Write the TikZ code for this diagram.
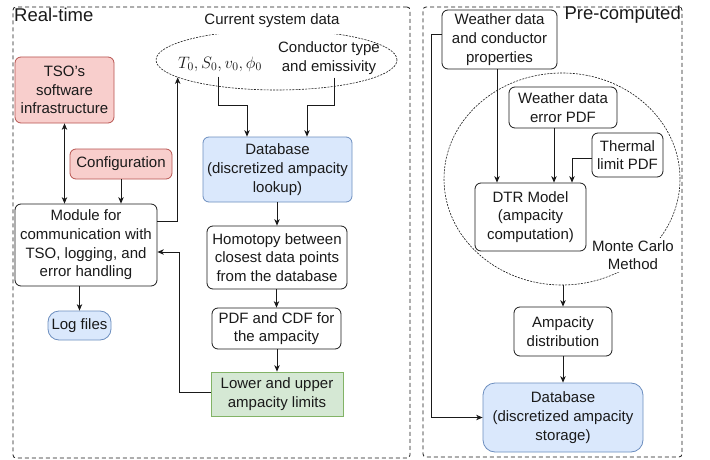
\documentclass[tikz,border=0pt]{standalone}
\usepackage{fix-cm}
\usepackage{fontspec}
\setmainfont{Liberation Sans}
\usetikzlibrary{arrows.meta,shapes.geometric,calc}
\definecolor{redfill}{HTML}{F8CECC}
\definecolor{redline}{HTML}{B85450}
\definecolor{bluefill}{HTML}{DAE8FC}
\definecolor{blueline}{HTML}{6C8EBF}
\definecolor{greenfill}{HTML}{D5E8D4}
\definecolor{greenline}{HTML}{82B366}
\definecolor{ink}{HTML}{1A1A1A}
\begin{document}
\begin{tikzpicture}[x=1pt,y=-1pt,
  txt/.style={font=\fontsize{15}{18.7}\selectfont, align=center, text=ink},
  box/.style={txt, draw=ink, line width=0.8pt, rounded corners=6pt, inner sep=0pt},
  redbox/.style={box, fill=redfill, draw=redline},
  bluebox/.style={box, fill=bluefill, draw=blueline},
  greenbox/.style={box, fill=greenfill, draw=greenline, rounded corners=0pt},
  frame/.style={draw=ink, line width=0.8pt, dash pattern=on 4pt off 3pt, rounded corners=3pt, inner sep=0pt},
  dotell/.style={ellipse, draw=ink, line width=0.6pt, dash pattern=on 2pt off 1.2pt, inner sep=0pt},
  title/.style={font=\fontsize{18.5}{22}\selectfont, text=ink, fill=white, inner xsep=0.5pt, inner ysep=0pt, text height=11pt, text depth=4pt},
  arr/.style={draw=ink, line width=0.8pt, -{Stealth[length=6.5pt,width=5.5pt,inset=2pt]}},
  arrboth/.style={draw=ink, line width=0.8pt, {Stealth[length=6.5pt,width=5.5pt,inset=2pt]}-{Stealth[length=6.5pt,width=5.5pt,inset=2pt]}}
]
\fill[white] (0,0) rectangle (710,460);
\useasboundingbox (0,0) rectangle (710,460);

% frames
\node[frame, minimum width=397pt, minimum height=451pt] (rt) at (211.5,232.5) {};
\node[frame, minimum width=259pt, minimum height=450pt] (pc) at (552.5,232) {};
\node[title, anchor=base west] (rtl) at (13.5,21.5) {Real-time};
\node[title, anchor=base east] (pcl) at (681.5,19.5) {Pre-computed};

% ellipses
\node[dotell, minimum width=241pt, minimum height=60pt] (cur) at (276.5,60) {};
\node[txt, fill=white, inner xsep=1pt, inner ysep=0pt, text height=14pt, text depth=9pt, anchor=base] (curl) at (272,25) {Current system data};
\node[txt, font=\fontsize{16.5}{20}\selectfont, inner xsep=2pt, inner ysep=5pt] (tv) at (220,64) {$T_0, S_0, v_0, \phi_0$};
\node[txt, inner xsep=2pt, inner ysep=3pt] (ct) at (329,58) {Conductor type\\and emissivity};

\node[dotell, minimum width=236pt, minimum height=212pt] (mc) at (562,179) {};
\node[txt, fill=white, inner sep=2pt] (mcl) at (633,255) {Monte Carlo\\Method};

% left nodes
\node[redbox, minimum width=99pt, minimum height=66pt] (tso) at (64.5,90) {TSO's\\software\\infrastructure};
\node[redbox, minimum width=102pt, minimum height=30pt] (cfg) at (121,164) {Configuration};
\node[box, minimum width=142pt, minimum height=82pt] (mod) at (86,245) {Module for\\communication with\\TSO, logging, and\\error handling};
\node[bluebox, rounded corners=11pt, minimum width=63pt, minimum height=29pt] (log) at (79.5,325.5) {Log files};
\node[bluebox, minimum width=149pt, minimum height=65pt] (db) at (277.5,169.5) {Database\\(discretized ampacity\\lookup)};
\node[box, minimum width=140pt, minimum height=63pt] (hom) at (277,257.5) {Homotopy between\\closest data points\\from the database};
\node[box, minimum width=129pt, minimum height=41pt] (pdf) at (276.5,328.5) {PDF and CDF for\\the ampacity};
\node[greenbox, minimum width=132pt, minimum height=44pt] (low) at (277,394) {Lower and upper\\ampacity limits};

% right nodes
\node[box, minimum width=115pt, minimum height=59pt] (wea) at (499.5,39.5) {Weather data\\and conductor\\properties};
\node[box, minimum width=108pt, minimum height=41pt] (err) at (563,107.5) {Weather data\\error PDF};
\node[box, minimum width=71pt, minimum height=44pt] (th) at (627.5,155) {Thermal\\limit PDF};
\node[box, minimum width=111pt, minimum height=68pt] (dtr) at (530.5,217) {DTR Model\\(ampacity\\computation)};
\node[box, minimum width=98pt, minimum height=49pt] (amp) at (563,331.5) {Ampacity\\distribution};
\node[bluebox, rounded corners=12pt, minimum width=160pt, minimum height=69pt] (sto) at (563,417.5) {Database\\(discretized ampacity\\storage)};

% left connectors
\draw[arrboth] (tso.south) -- (tso.south |- mod.north);
\draw[arr] (cfg.south) -- (cfg.south |- mod.north);
\draw[arr] (mod.south -| log.north) -- (log.north);
\draw[arr] ([yshift=24pt]mod.east) -| (cur.190);
\draw[arr] ([xshift=-2pt]tv.south) |- ([xshift=-30.5pt,yshift=31pt]db.north) -- ([xshift=-30.5pt]db.north);
\draw[arr] ([xshift=5pt]ct.south) |- ([xshift=29.5pt,yshift=31pt]db.north) -- ([xshift=29.5pt]db.north);
\draw[arr] (db.south -| hom.north) -- (hom.north);
\draw[arr] (hom.south -| pdf.north) -- (pdf.north);
\draw[arr] (pdf.south -| low.north) -- (low.north);
\draw[arr] ([yshift=2pt]low.west) -- ++(-31,0) |- ([yshift=-7pt]mod.east);

% right connectors
\draw[arr] ([xshift=-2.5pt]wea.south) -- ([xshift=-2.5pt]dtr.north -| wea.south);
\draw[arr] ([xshift=-9pt]err.south) -- ([xshift=-9pt]dtr.north -| err.south);
\draw[arr] ([yshift=-3pt]th.west) -| ([xshift=41.5pt]dtr.north);
\draw[arr] (mc.south -| amp.north) -- (amp.north);
\draw[arr] (amp.south) -- (amp.south |- sto.north);
\draw[arr] ([yshift=5.5pt]wea.west) -- ++(-10,0) |- (sto.west);
\end{tikzpicture}
\end{document}
